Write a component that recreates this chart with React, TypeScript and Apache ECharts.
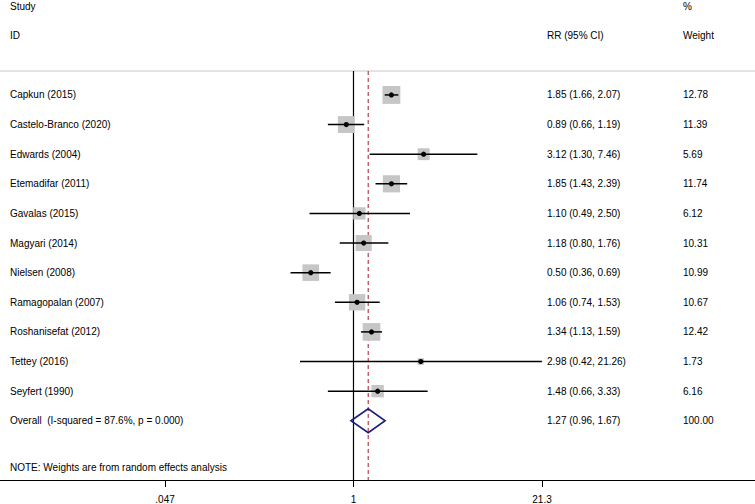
import React, { useEffect, useRef } from "react";
import * as echarts from "echarts";

const studies = [
  "Capkun (2015)",
  "Castelo-Branco (2020)",
  "Edwards (2004)",
  "Etemadifar (2011)",
  "Gavalas (2015)",
  "Magyari (2014)",
  "Nielsen (2008)",
  "Ramagopalan (2007)",
  "Roshanisefat (2012)",
  "Tettey (2016)",
  "Seyfert (1990)",
];
const rr = [1.85, 0.89, 3.12, 1.85, 1.1, 1.18, 0.5, 1.06, 1.34, 2.98, 1.48];
const lo = [1.66, 0.66, 1.3, 1.43, 0.49, 0.8, 0.36, 0.74, 1.13, 0.42, 0.66];
const hi = [2.07, 1.19, 7.46, 2.39, 2.5, 1.76, 0.69, 1.53, 1.59, 21.26, 3.33];
const weights = [12.78, 11.39, 5.69, 11.74, 6.12, 10.31, 10.99, 10.67, 12.42, 1.73, 6.16];

const overallLabel = "Overall  (I-squared = 87.6%, p = 0.000)";
const overallRR = [1.27, 0.96, 1.67];
const overallWeight = 100.0;
const noteText = "NOTE: Weights are from random effects analysis";

const tickValues = [0.047, 1, 21.3];
const tickLabels = [".047", "1", "21.3"];

const FONT = "Arial, 'Liberation Sans', sans-serif";
const X_COL_RR = 547;
const X_COL_W = 683;
const X_COL_NAME = 10;
const Y_MIN = -0.808;
const Y_MAX = 13.0;

export default function App() {
  const ref = useRef<HTMLDivElement>(null);
  useEffect(() => {
    if (!ref.current) return;
    const chart = echarts.init(ref.current, undefined, { renderer: "svg" });
    const lnTicks = tickValues.map((v) => Math.log(v));
    const labelFor = (v: number) => {
      for (let i = 0; i < lnTicks.length; i++) {
        if (Math.abs(lnTicks[i] - v) < 1e-6) return tickLabels[i];
      }
      return "";
    };
    const txtStyle = (x: number, y: number, text: string) => ({
      type: "text",
      style: {
        x,
        y,
        text,
        fill: "#000",
        font: `10px ${FONT}`,
        textVerticalAlign: "middle",
        verticalAlign: "middle",
      },
    });

    const studyData = studies.map((s, i) => [
      i,
      Math.log(rr[i]),
      Math.log(lo[i]),
      Math.log(hi[i]),
      weights[i],
    ]);

    const option: any = {
      animation: false,
      grid: { left: 0, right: 0, top: 71, bottom: 23, containLabel: false },
      xAxis: {
        type: "value",
        min: -5.735,
        max: 6.514,
        splitLine: { show: false },
        axisLine: { show: true, onZero: false, lineStyle: { color: "#000", width: 1 } },
        axisTick: {
          show: true,
          customValues: lnTicks,
          length: 7,
          lineStyle: { color: "#000", width: 1 },
        },
        axisLabel: {
          show: true,
          customValues: lnTicks,
          formatter: (v: number) => labelFor(v),
          color: "#000",
          fontSize: 10,
          fontFamily: FONT,
          margin: 14,
        },
      },
      yAxis: {
        type: "value",
        inverse: true,
        min: Y_MIN,
        max: Y_MAX,
        show: false,
      },
      graphic: [
        {
          type: "line",
          shape: { x1: 0, y1: 71, x2: 755, y2: 71 },
          style: { stroke: "#c8c8c8", lineWidth: 1 },
          silent: true,
        },
        txtStyle(10, 6, "Study"),
        txtStyle(10, 35, "ID"),
        txtStyle(X_COL_RR, 35, "RR (95% CI)"),
        txtStyle(X_COL_W, 6, "%"),
        txtStyle(X_COL_W, 35, "Weight"),
        txtStyle(10, 467, noteText),
      ],
      series: [
        {
          type: "custom",
          name: "refs",
          silent: true,
          data: [
            [0, 0],
            [Math.log(overallRR[0]), 1],
          ],
          encode: { x: 0 },
          renderItem: (params: any, api: any) => {
            const x = api.value(0);
            const dashed = api.value(1) === 1;
            const a = api.coord([x, Y_MIN]);
            const b = api.coord([x, Y_MAX]);
            return {
              type: "line",
              shape: { x1: a[0], y1: a[1], x2: b[0], y2: b[1] },
              style: dashed
                ? { stroke: "#b5404c", lineWidth: 1.2, lineDash: [4, 3] }
                : { stroke: "#000", lineWidth: 1.2 },
            };
          },
        },
        {
          type: "custom",
          name: "studies",
          silent: true,
          data: studyData,
          encode: { x: [1, 2, 3], y: 0 },
          renderItem: (params: any, api: any) => {
            const i = params.dataIndex;
            const row = api.value(0);
            const p = api.coord([api.value(1), row]);
            const pl = api.coord([api.value(2), row]);
            const ph = api.coord([api.value(3), row]);
            const s = 5.0 * Math.sqrt(api.value(4));
            return {
              type: "group",
              children: [
                {
                  type: "rect",
                  shape: { x: p[0] - s / 2, y: p[1] - s / 2, width: s, height: s },
                  style: { fill: "#c6c6c6" },
                },
                {
                  type: "line",
                  shape: { x1: pl[0], y1: pl[1], x2: ph[0], y2: ph[1] },
                  style: { stroke: "#000", lineWidth: 1.5 },
                },
                {
                  type: "circle",
                  shape: { cx: p[0], cy: p[1], r: 2.6 },
                  style: { fill: "#000" },
                },
                txtStyle(X_COL_NAME, p[1], studies[i]),
                txtStyle(
                  X_COL_RR,
                  p[1],
                  `${rr[i].toFixed(2)} (${lo[i].toFixed(2)}, ${hi[i].toFixed(2)})`
                ),
                txtStyle(X_COL_W, p[1], weights[i].toFixed(2)),
              ],
            };
          },
        },
        {
          type: "custom",
          name: "overall",
          silent: true,
          data: [
            [
              studies.length,
              Math.log(overallRR[0]),
              Math.log(overallRR[1]),
              Math.log(overallRR[2]),
            ],
          ],
          encode: { x: [1, 2, 3], y: 0 },
          renderItem: (params: any, api: any) => {
            const row = api.value(0);
            const p = api.coord([api.value(1), row]);
            const pl = api.coord([api.value(2), row]);
            const ph = api.coord([api.value(3), row]);
            const h = 12;
            return {
              type: "group",
              children: [
                {
                  type: "polygon",
                  shape: {
                    points: [
                      [pl[0], p[1]],
                      [p[0], p[1] - h],
                      [ph[0], p[1]],
                      [p[0], p[1] + h],
                    ],
                  },
                  style: { fill: "none", stroke: "#1c1f7a", lineWidth: 1.6 },
                },
                txtStyle(X_COL_NAME, p[1], overallLabel),
                txtStyle(
                  X_COL_RR,
                  p[1],
                  `${overallRR[0].toFixed(2)} (${overallRR[1].toFixed(2)}, ${overallRR[2].toFixed(2)})`
                ),
                txtStyle(X_COL_W, p[1], overallWeight.toFixed(2)),
              ],
            };
          },
        },
      ],
    };
    chart.setOption(option);
    return () => chart.dispose();
  }, []);
  return (
    <div
      ref={ref}
      style={{ position: "fixed", left: 0, top: 0, width: 755, height: 504, background: "#fff" }}
    />
  );
}
